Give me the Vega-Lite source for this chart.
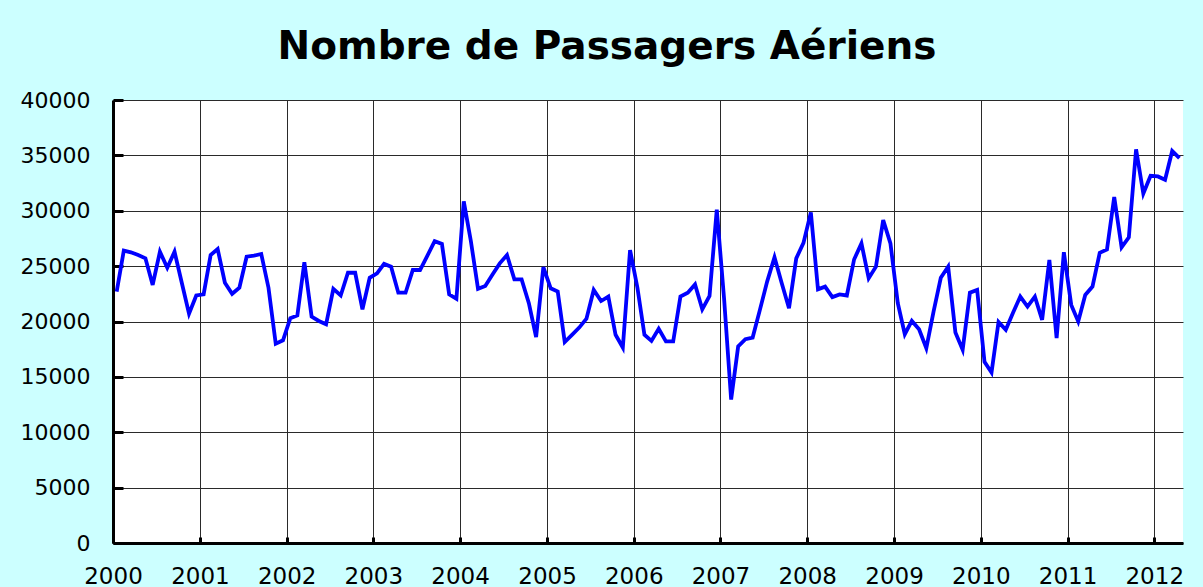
{
  "$schema": "https://vega.github.io/schema/vega-lite/v6.json",
  "width": 1070,
  "height": 443,
  "autosize": {"type": "none"},
  "padding": {"left": 113, "top": 100, "right": 20, "bottom": 44},
  "background": "#CCFFFF",
  "title": {
    "text": "Nombre de Passagers Aériens",
    "font": "DejaVu Sans",
    "fontSize": 39,
    "fontWeight": "bold",
    "color": "#000000",
    "anchor": "middle",
    "dx": -41,
    "offset": 22
  },
  "config": {
    "view": {"stroke": null, "fill": "#FFFFFF"},
    "axis": {
      "labelFont": "DejaVu Sans",
      "labelColor": "#000000",
      "domainColor": "#000000",
      "domainWidth": 3,
      "tickColor": "#000000",
      "tickWidth": 3,
      "gridColor": "#2a2a2a",
      "gridWidth": 1,
      "gridOpacity": 1,
      "title": null
    }
  },
  "data": {
    "values": [
      {"m": "2000-01", "v": 22700}, {"m": "2000-02", "v": 26400}, {"m": "2000-03", "v": 26250}, {"m": "2000-04", "v": 26000},
      {"m": "2000-05", "v": 25700}, {"m": "2000-06", "v": 23300}, {"m": "2000-07", "v": 26300}, {"m": "2000-08", "v": 24850},
      {"m": "2000-09", "v": 26300}, {"m": "2000-10", "v": 23500}, {"m": "2000-11", "v": 20700}, {"m": "2000-12", "v": 22350},
      {"m": "2001-01", "v": 22450}, {"m": "2001-02", "v": 26000}, {"m": "2001-03", "v": 26550}, {"m": "2001-04", "v": 23500},
      {"m": "2001-05", "v": 22500}, {"m": "2001-06", "v": 23050}, {"m": "2001-07", "v": 25850}, {"m": "2001-08", "v": 25950},
      {"m": "2001-09", "v": 26100}, {"m": "2001-10", "v": 23050}, {"m": "2001-11", "v": 18000}, {"m": "2001-12", "v": 18300},
      {"m": "2002-01", "v": 20300}, {"m": "2002-02", "v": 20550}, {"m": "2002-03", "v": 25350}, {"m": "2002-04", "v": 20450},
      {"m": "2002-05", "v": 20050}, {"m": "2002-06", "v": 19750}, {"m": "2002-07", "v": 22950}, {"m": "2002-08", "v": 22350},
      {"m": "2002-09", "v": 24400}, {"m": "2002-10", "v": 24400}, {"m": "2002-11", "v": 21100}, {"m": "2002-12", "v": 23950},
      {"m": "2003-01", "v": 24350}, {"m": "2003-02", "v": 25200}, {"m": "2003-03", "v": 24950}, {"m": "2003-04", "v": 22600},
      {"m": "2003-05", "v": 22600}, {"m": "2003-06", "v": 24650}, {"m": "2003-07", "v": 24650}, {"m": "2003-08", "v": 25950},
      {"m": "2003-09", "v": 27250}, {"m": "2003-10", "v": 27000}, {"m": "2003-11", "v": 22450}, {"m": "2003-12", "v": 22050},
      {"m": "2004-01", "v": 30850}, {"m": "2004-02", "v": 27250}, {"m": "2004-03", "v": 22950}, {"m": "2004-04", "v": 23200},
      {"m": "2004-05", "v": 24250}, {"m": "2004-06", "v": 25250}, {"m": "2004-07", "v": 26000}, {"m": "2004-08", "v": 23800},
      {"m": "2004-09", "v": 23800}, {"m": "2004-10", "v": 21650}, {"m": "2004-11", "v": 18600}, {"m": "2004-12", "v": 24900},
      {"m": "2005-01", "v": 23000}, {"m": "2005-02", "v": 22700}, {"m": "2005-03", "v": 18150}, {"m": "2005-04", "v": 18800},
      {"m": "2005-05", "v": 19450}, {"m": "2005-06", "v": 20250}, {"m": "2005-07", "v": 22850}, {"m": "2005-08", "v": 21850},
      {"m": "2005-09", "v": 22250}, {"m": "2005-10", "v": 18800}, {"m": "2005-11", "v": 17650}, {"m": "2005-12", "v": 26450},
      {"m": "2006-01", "v": 23050}, {"m": "2006-02", "v": 18800}, {"m": "2006-03", "v": 18250}, {"m": "2006-04", "v": 19350},
      {"m": "2006-05", "v": 18200}, {"m": "2006-06", "v": 18200}, {"m": "2006-07", "v": 22250}, {"m": "2006-08", "v": 22600},
      {"m": "2006-09", "v": 23350}, {"m": "2006-10", "v": 21100}, {"m": "2006-11", "v": 22300}, {"m": "2006-12", "v": 30100},
      {"m": "2007-01", "v": 22000}, {"m": "2007-02", "v": 12950}, {"m": "2007-03", "v": 17750}, {"m": "2007-04", "v": 18400},
      {"m": "2007-05", "v": 18550}, {"m": "2007-06", "v": 21050}, {"m": "2007-07", "v": 23600}, {"m": "2007-08", "v": 25800},
      {"m": "2007-09", "v": 23450}, {"m": "2007-10", "v": 21200}, {"m": "2007-11", "v": 25700}, {"m": "2007-12", "v": 27100},
      {"m": "2008-01", "v": 29850}, {"m": "2008-02", "v": 22900}, {"m": "2008-03", "v": 23150}, {"m": "2008-04", "v": 22200},
      {"m": "2008-05", "v": 22450}, {"m": "2008-06", "v": 22350}, {"m": "2008-07", "v": 25600}, {"m": "2008-08", "v": 27050},
      {"m": "2008-09", "v": 23900}, {"m": "2008-10", "v": 24950}, {"m": "2008-11", "v": 29150}, {"m": "2008-12", "v": 27050},
      {"m": "2009-01", "v": 21650}, {"m": "2009-02", "v": 18850}, {"m": "2009-03", "v": 20050}, {"m": "2009-04", "v": 19300},
      {"m": "2009-05", "v": 17600}, {"m": "2009-06", "v": 20900}, {"m": "2009-07", "v": 23950}, {"m": "2009-08", "v": 24950},
      {"m": "2009-09", "v": 19000}, {"m": "2009-10", "v": 17450}, {"m": "2009-11", "v": 22600}, {"m": "2009-12", "v": 22850},
      {"m": "2010-01", "v": 16350}, {"m": "2010-02", "v": 15400}, {"m": "2010-03", "v": 19950}, {"m": "2010-04", "v": 19250},
      {"m": "2010-05", "v": 20800}, {"m": "2010-06", "v": 22250}, {"m": "2010-07", "v": 21350}, {"m": "2010-08", "v": 22250},
      {"m": "2010-09", "v": 20150}, {"m": "2010-10", "v": 25550}, {"m": "2010-11", "v": 18500}, {"m": "2010-12", "v": 26250},
      {"m": "2011-01", "v": 21500}, {"m": "2011-02", "v": 20000}, {"m": "2011-03", "v": 22400}, {"m": "2011-04", "v": 23150},
      {"m": "2011-05", "v": 26200}, {"m": "2011-06", "v": 26500}, {"m": "2011-07", "v": 31250}, {"m": "2011-08", "v": 26700},
      {"m": "2011-09", "v": 27600}, {"m": "2011-10", "v": 35550}, {"m": "2011-11", "v": 31550}, {"m": "2011-12", "v": 33150},
      {"m": "2012-01", "v": 33100}, {"m": "2012-02", "v": 32800}, {"m": "2012-03", "v": 35400}, {"m": "2012-04", "v": 34750}
    ]
  },
  "mark": {"type": "line", "color": "#0000FF", "strokeWidth": 3.8, "strokeJoin": "miter", "clip": true},
  "encoding": {
    "x": {
      "field": "m",
      "type": "temporal",
      "timeUnit": "utcyearmonth",
      "bandPosition": 0.5,
      "scale": {
        "type": "utc",
        "domain": [
          {"year": 2000, "month": 1, "date": 1, "utc": true},
          {"year": 2012, "month": 5, "date": 1, "utc": true}
        ]
      },
      "axis": {
        "values": [
          {"year": 2000, "month": 1, "date": 1, "utc": true},
          {"year": 2001, "month": 1, "date": 1, "utc": true},
          {"year": 2002, "month": 1, "date": 1, "utc": true},
          {"year": 2003, "month": 1, "date": 1, "utc": true},
          {"year": 2004, "month": 1, "date": 1, "utc": true},
          {"year": 2005, "month": 1, "date": 1, "utc": true},
          {"year": 2006, "month": 1, "date": 1, "utc": true},
          {"year": 2007, "month": 1, "date": 1, "utc": true},
          {"year": 2008, "month": 1, "date": 1, "utc": true},
          {"year": 2009, "month": 1, "date": 1, "utc": true},
          {"year": 2010, "month": 1, "date": 1, "utc": true},
          {"year": 2011, "month": 1, "date": 1, "utc": true},
          {"year": 2012, "month": 1, "date": 1, "utc": true}
        ],
        "labelExpr": "utcFormat(datum.value, '%Y')",
        "labelFontSize": 23,
        "labelPadding": 28,
        "tickSize": -6,
        "labelFlush": false,
        "labelOverlap": false,
        "grid": true,
        "zindex": 0
      }
    },
    "y": {
      "field": "v",
      "type": "quantitative",
      "scale": {"domain": [0, 40000], "nice": false},
      "axis": {
        "values": [0, 5000, 10000, 15000, 20000, 25000, 30000, 35000, 40000],
        "format": "d",
        "labelFontSize": 22,
        "labelPadding": 33,
        "tickSize": -10,
        "labelFlush": false,
        "labelOverlap": false,
        "grid": true,
        "zindex": 0
      }
    }
  }
}
